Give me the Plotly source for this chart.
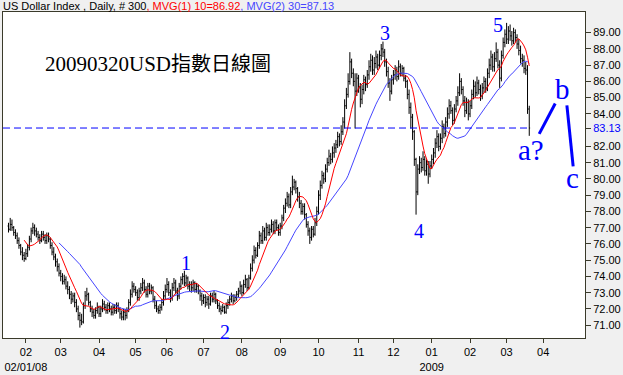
import plotly.graph_objects as go
import pandas as pd

# ---------------- data ----------------
closes = [
    76.9, 77.2, 77.0, 76.7, 76.5, 76.2, 75.9, 75.5, 75.3, 75.1, 75.4,
    75.8, 76.3, 76.8, 77.0, 76.8, 76.6,
    76.4, 76.2, 76.6, 76.4, 76.2, 76.5, 76.3,
    75.9, 75.5, 75.2, 74.9, 74.6,
    74.2, 74.0, 73.7, 73.8, 73.4,
    73.2, 72.9, 72.6, 72.8, 72.4,
    72.0, 71.6, 71.3, 71.2,
    72.2, 72.8, 72.9, 72.4,
    72.0, 71.8, 71.6, 71.9, 72.1, 71.7,
    72.0, 72.3, 72.1, 71.9, 72.2, 72.0, 71.8, 72.1, 71.9, 72.2, 72.0,
    71.7, 71.5, 71.8, 71.6, 71.9,
    72.4, 72.9, 73.4, 73.2, 73.0, 72.7, 73.1,
    73.3, 73.6, 73.2, 72.9, 73.4, 73.1, 73.3,
    72.6, 72.2, 72.0, 71.9, 72.1, 72.4,
    72.8, 73.2, 73.5, 73.0, 72.7, 73.3, 73.6, 73.1, 72.8, 73.4,
    73.8, 74.0, 73.6, 73.9, 73.4,
    73.5, 73.3, 73.6, 73.2, 73.4, 73.1,
    72.8, 72.5, 72.7, 72.4, 72.6, 72.3,
    72.8, 72.6, 72.9, 72.5,
    72.2, 72.0, 71.9, 72.1, 71.8, 72.2,
    72.4, 72.6, 72.8, 72.5, 72.7, 72.9, 73.1,
    73.4, 73.0, 73.5, 73.8, 73.3, 73.9,
    74.5, 75.0, 75.6, 75.3,
    75.9, 76.5, 76.2, 76.8, 76.4, 77.0, 76.7,
    76.9, 77.2, 76.8, 77.3, 77.0, 76.7, 77.1,
    77.6, 78.2, 78.5, 78.9, 78.4, 79.2, 79.5, 79.8, 79.4,
    78.9, 78.5, 78.0, 78.3, 77.8,
    77.2, 76.8, 76.4, 76.9, 76.6, 77.3,
    78.0, 79.0, 79.6, 80.2, 80.0, 80.6,
    81.0, 81.4, 81.2, 81.6, 81.9,
    82.1, 82.6, 82.3, 82.9,
    83.5, 84.5, 85.2, 86.0, 87.2, 86.5,
    86.0, 85.4, 86.2, 85.6, 84.9, 85.5, 86.1, 85.8,
    86.4, 86.9, 87.3, 86.7, 87.1, 87.5, 87.0,
    87.6, 88.0, 87.8, 87.2,
    86.6, 85.9, 85.4, 86.1,
    86.4, 86.7, 86.3, 86.9, 86.5, 86.8, 86.2, 86.0,
    85.2, 84.4, 83.8,
    82.9, 81.2, 79.2, 80.6,
    81.0, 80.7, 81.2, 80.5, 80.9, 80.3, 80.8,
    81.2, 81.6, 82.2, 82.6, 82.0, 82.5, 83.2, 82.8,
    83.5, 84.0, 84.5, 84.2, 83.6, 84.3,
    84.8, 85.3, 86.0, 85.5,
    84.8, 84.2, 84.7, 84.0,
    84.5, 85.2, 85.7, 85.3, 85.9, 85.5, 85.1, 85.6, 86.0,
    85.6, 86.5, 87.0, 87.5, 86.9, 87.4,
    87.8, 87.0, 86.2,
    87.6, 88.4, 88.9, 88.6, 89.1, 88.8, 88.5, 89.0,
    88.7, 88.3, 87.9, 87.4, 87.3, 86.8, 86.7,
    84.3, 83.13,
]

opens = [
    77.1, 76.9, 77.2, 77.0, 76.7, 76.5, 76.2, 75.9, 75.5, 75.3, 75.1,
    75.4, 75.8, 76.3, 76.8, 77.0, 76.8,
    76.6, 76.4, 76.2, 76.6, 76.4, 76.2, 76.5,
    76.3, 75.9, 75.5, 75.2, 74.9,
    74.6, 74.2, 74.0, 73.7, 73.8,
    73.4, 73.2, 72.9, 72.6, 72.8,
    72.4, 72.0, 71.6, 71.3,
    71.2, 72.2, 72.8, 72.9,
    72.4, 72.0, 71.8, 71.6, 71.9, 72.1,
    71.7, 72.0, 72.3, 72.1, 71.9, 72.2, 72.0, 71.8, 72.1, 71.9, 72.2,
    72.0, 71.7, 71.5, 71.8, 71.6,
    71.9, 72.4, 72.9, 73.4, 73.2, 73.0, 72.7,
    73.1, 73.3, 73.6, 73.2, 72.9, 73.4, 73.1,
    73.3, 72.6, 72.2, 72.0, 71.9, 72.1,
    72.4, 72.8, 73.2, 73.5, 73.0, 72.7, 73.3, 73.6, 73.1, 72.8,
    73.4, 73.8, 74.0, 73.6, 73.9,
    73.4, 73.5, 73.3, 73.6, 73.2, 73.4,
    73.1, 72.8, 72.5, 72.7, 72.4, 72.6,
    72.3, 72.8, 72.6, 72.9,
    72.5, 72.2, 72.0, 71.9, 72.1, 71.8,
    72.2, 72.4, 72.6, 72.8, 72.5, 72.7, 72.9,
    73.1, 73.4, 73.0, 73.5, 73.8, 73.3,
    73.9, 74.5, 75.0, 75.6,
    75.3, 75.9, 76.5, 76.2, 76.8, 76.4, 77.0,
    76.7, 76.9, 77.2, 76.8, 77.3, 77.0, 76.7,
    77.1, 77.6, 78.2, 78.5, 78.9, 78.4, 79.2, 79.5, 79.8,
    79.4, 78.9, 78.5, 78.0, 78.3,
    77.8, 77.2, 76.8, 76.4, 76.9, 76.6,
    77.3, 78.0, 79.0, 79.6, 80.2, 80.0,
    80.6, 81.0, 81.4, 81.2, 81.6,
    81.9, 82.1, 82.6, 82.3,
    82.9, 83.5, 84.5, 85.2, 86.0, 87.2,
    86.5, 86.0, 85.4, 86.2, 85.6, 84.9, 85.5, 86.1,
    85.8, 86.4, 86.9, 87.3, 86.7, 87.1, 87.5,
    87.0, 87.6, 88.0, 87.8,
    87.2, 86.6, 85.9, 85.4,
    86.1, 86.4, 86.7, 86.3, 86.9, 86.5, 86.8, 86.2,
    86.0, 85.2, 84.4,
    83.8, 82.9, 81.2, 79.2,
    80.6, 81.0, 80.7, 81.2, 80.5, 80.9, 80.3,
    80.8, 81.2, 81.6, 82.2, 82.6, 82.0, 82.5, 83.2,
    82.8, 83.5, 84.0, 84.5, 84.2, 83.6,
    84.3, 84.8, 85.3, 86.0,
    85.5, 84.8, 84.2, 84.7,
    84.0, 84.5, 85.2, 85.7, 85.3, 85.9, 85.5, 85.1, 85.6,
    86.0, 85.6, 86.5, 87.0, 87.5, 86.9,
    87.4, 87.8, 87.0,
    86.2, 87.6, 88.4, 88.9, 88.6, 89.1, 88.8, 88.5,
    89.0, 88.7, 88.3, 87.9, 87.4, 87.3, 86.8,
    86.7, 84.3,
]

highs = [
    77.3, 77.6, 77.5, 77.1, 76.9, 76.7, 76.4, 76.0, 75.8, 75.5, 75.7,
    76.0, 76.5, 77.0, 77.3, 77.2, 77.0,
    76.8, 76.6, 76.8, 76.8, 76.6, 76.7, 76.7,
    76.4, 76.1, 75.8, 75.4, 75.1,
    74.8, 74.4, 74.2, 74.1, 74.0,
    73.7, 73.4, 73.1, 73.0, 73.0,
    72.6, 72.2, 71.8, 71.7,
    72.4, 73.1, 73.3, 73.0,
    72.5, 72.2, 72.0, 72.1, 72.4, 72.2,
    72.2, 72.6, 72.5, 72.3, 72.4, 72.4, 72.2, 72.3, 72.3, 72.4, 72.4,
    72.1, 71.9, 72.0, 72.0, 72.1,
    72.6, 73.2, 73.7, 73.6, 73.4, 73.2, 73.3,
    73.6, 73.9, 73.8, 73.4, 73.6, 73.6, 73.5,
    73.4, 72.8, 72.5, 72.2, 72.3, 72.6,
    73.1, 73.5, 73.9, 73.7, 73.2, 73.6, 73.9, 73.8, 73.3, 73.6,
    74.0, 74.2, 74.35, 74.1, 74.0,
    73.7, 73.7, 73.8, 73.7, 73.6, 73.5,
    73.2, 73.0, 72.9, 72.9, 72.8, 72.8,
    73.0, 73.0, 73.1, 73.0,
    72.6, 72.4, 72.2, 72.3, 72.2, 72.4,
    72.6, 72.8, 73.0, 72.9, 72.9, 73.1, 73.3,
    73.7, 73.5, 73.8, 74.1, 73.9, 74.1,
    74.8, 75.3, 75.9, 75.8,
    76.1, 76.8, 76.7, 77.1, 77.0, 77.3, 77.2,
    77.2, 77.5, 77.4, 77.5, 77.5, 77.2, 77.3,
    77.8, 78.4, 78.8, 79.2, 79.1, 79.5, 80.2, 80.0, 79.9,
    79.5, 79.2, 78.7, 78.5, 78.5,
    77.9, 77.4, 77.0, 77.1, 77.1, 77.6,
    78.3, 79.3, 79.9, 80.5, 80.4, 80.9,
    81.3, 81.8, 81.6, 82.0, 82.2,
    82.4, 82.9, 82.8, 83.3,
    83.8, 84.9, 85.6, 86.5, 87.8, 87.4,
    86.8, 86.5, 86.5, 86.4, 85.9, 85.8, 86.4, 86.3,
    86.7, 87.3, 87.7, 87.6, 87.5, 87.9, 87.7,
    87.9, 88.3, 88.45, 88.0,
    87.4, 86.9, 86.2, 86.4,
    86.7, 87.0, 86.9, 87.3, 87.1, 87.0, 86.9, 86.4,
    86.1, 85.5, 84.7,
    84.0, 83.0, 81.3, 80.9,
    81.4, 81.3, 81.7, 81.4, 81.2, 81.1, 81.1,
    81.5, 81.9, 82.5, 83.0, 82.8, 82.8, 83.6, 83.4,
    83.8, 84.4, 84.9, 84.8, 84.4, 84.6,
    85.1, 85.7, 86.5, 86.2,
    85.7, 85.1, 85.0, 84.9,
    84.8, 85.5, 86.1, 86.0, 86.3, 86.1, 85.8, 85.9, 86.3,
    86.2, 86.8, 87.4, 87.9, 87.7, 87.8,
    88.4, 88.0, 87.3,
    87.9, 88.7, 89.2, 89.6, 89.4, 89.5, 89.1, 89.3,
    89.2, 88.9, 88.6, 88.2, 87.7, 87.6, 87.2,
    87.0, 84.5,
]

lows = [
    76.7, 76.8, 76.8, 76.5, 76.3, 76.0, 75.7, 75.3, 75.0, 74.9, 75.0,
    75.2, 75.6, 76.1, 76.6, 76.5, 76.4,
    76.2, 76.0, 76.1, 76.2, 76.0, 76.0, 76.1,
    75.7, 75.3, 75.0, 74.6, 74.3,
    74.0, 73.7, 73.5, 73.5, 73.2,
    72.9, 72.6, 72.3, 72.4, 72.1,
    71.8, 71.3, 70.85, 71.0,
    71.1, 72.0, 72.5, 72.2,
    71.8, 71.5, 71.4, 71.4, 71.7, 71.5,
    71.5, 71.8, 71.9, 71.7, 71.7, 71.8, 71.6, 71.6, 71.7, 71.7, 71.8,
    71.4, 71.3, 71.3, 71.3, 71.4,
    71.8, 72.2, 72.7, 73.0, 72.8, 72.5, 72.5,
    72.9, 73.1, 73.0, 72.7, 72.7, 72.9, 72.9,
    72.4, 72.0, 71.8, 71.7, 71.7, 71.9,
    72.2, 72.6, 73.0, 72.8, 72.4, 72.5, 73.1, 72.9, 72.5, 72.6,
    73.2, 73.5, 73.4, 73.4, 73.2,
    73.1, 73.0, 73.1, 73.0, 73.0, 72.9,
    72.5, 72.2, 72.3, 72.1, 72.2, 72.0,
    72.2, 72.4, 72.4, 72.3,
    72.0, 71.8, 71.65, 71.8, 71.7, 71.7,
    72.0, 72.2, 72.4, 72.3, 72.4, 72.5, 72.7,
    72.9, 72.8, 72.9, 73.3, 73.1, 73.2,
    73.8, 74.3, 74.8, 75.1,
    75.2, 75.7, 76.0, 76.0, 76.2, 76.2, 76.5,
    76.5, 76.7, 76.6, 76.6, 76.8, 76.5, 76.5,
    76.9, 77.4, 77.9, 78.3, 78.2, 78.2, 79.0, 79.3, 79.1,
    78.6, 78.2, 77.8, 77.8, 77.5,
    77.0, 76.5, 76.0, 76.2, 76.4, 76.5,
    77.1, 77.8, 78.7, 79.4, 79.7, 79.8,
    80.4, 80.8, 80.9, 81.0, 81.3,
    81.6, 81.9, 82.0, 82.1,
    82.7, 83.1, 84.3, 85.0, 85.8, 86.2,
    85.7, 83.1, 85.1, 85.3, 84.4, 84.6, 85.2, 85.4,
    85.6, 86.1, 86.6, 86.4, 86.4, 86.8, 86.7,
    86.8, 87.3, 87.5, 86.9,
    86.3, 85.6, 84.8, 85.2,
    85.8, 86.1, 86.0, 86.1, 86.3, 86.3, 86.0, 85.6,
    84.9, 84.0, 83.1,
    82.4, 80.8, 77.8, 79.0,
    80.3, 80.4, 80.5, 80.2, 80.2, 79.7, 80.1,
    80.6, 80.9, 81.3, 81.9, 81.7, 81.8, 82.2, 82.5,
    82.6, 83.2, 83.7, 84.0, 83.3, 83.4,
    84.1, 84.5, 85.1, 85.2,
    84.5, 83.8, 84.0, 83.6,
    83.8, 84.3, 84.9, 85.0, 85.1, 85.2, 84.8, 84.9, 85.3,
    85.3, 85.4, 86.2, 86.7, 86.6, 86.6,
    87.2, 86.8, 85.6,
    86.0, 87.4, 88.1, 88.3, 88.3, 88.5, 88.2, 88.3,
    88.4, 88.0, 87.6, 87.1, 86.9, 86.5, 86.4,
    84.0, 82.65,
]

month_ticks = [10, 30, 52, 73, 91, 112, 134, 156, 178, 201, 221, 243, 265, 286, 307]
month_labels = ["02<br>02/01/08", "03", "04", "05", "06", "07", "08", "09", "10",
                "11", "12", "01<br>2009", "02", "03", "04"]

price_ticks = [71, 72, 73, 74, 75, 76, 77, 78, 79, 80, 81, 82, 83.13, 84, 85, 86, 87, 88, 89]
last_close = 83.13
ma_short_n = 10
ma_long_n = 30

header_main = "US Dollar Index , Daily, # 300"
header_ma1 = ", MVG(1) 10=86.92"
header_ma2 = ", MVG(2) 30=87.13"
chart_title_latin = "20090320USD"
chart_title_cjk = "指數日線圖"

wave_labels = ["1", "2", "3", "4", "5"]
wave_x = [102, 124.5, 216.4, 235.5, 281.3]
wave_y = [74.8, 70.6, 89.0, 76.8, 89.45]

# ---------------- figure ----------------
idx = list(range(len(closes)))
s = pd.Series(closes)
ma10 = s.rolling(ma_short_n).mean()
ma30 = s.rolling(ma_long_n).mean()

BLUE = "#0000ff"
MA_BLUE = "#4646ff"
BORDER = "#3a3a2a"
FONT = "Liberation Sans, Arial, sans-serif"
SERIF = "Liberation Serif, Times New Roman, serif"

fig = go.Figure()

fig.add_trace(go.Ohlc(
    x=idx, open=opens, high=highs, low=lows, close=closes,
    increasing=dict(line=dict(color="black", width=1)),
    decreasing=dict(line=dict(color="black", width=1)),
    tickwidth=0.5, showlegend=False, hoverinfo="skip",
))
fig.add_trace(go.Scatter(x=idx, y=ma30, mode="lines",
                         line=dict(color=MA_BLUE, width=1), showlegend=False, hoverinfo="skip"))
fig.add_trace(go.Scatter(x=idx, y=ma10, mode="lines",
                         line=dict(color="#ff0000", width=1), showlegend=False, hoverinfo="skip"))

# last-close dashed line
fig.add_shape(type="line", xref="x", yref="y", x0=-3.15, x1=len(closes) - 1,
              y0=last_close, y1=last_close, line=dict(color=BLUE, width=1, dash="7px,4px"))

# hand-drawn b / c projection strokes
fig.add_shape(type="line", xref="x", yref="y", x0=304.7, y0=82.77, x1=313.9, y1=84.64,
              line=dict(color=BLUE, width=3))
fig.add_shape(type="line", xref="x", yref="y", x0=320.6, y0=84.52, x1=324.2, y1=80.77,
              line=dict(color=BLUE, width=3))

ann = []
for t, xv, yv in zip(wave_labels, wave_x, wave_y):
    ann.append(dict(x=xv, y=yv, xref="x", yref="y", text=t, showarrow=False,
                    font=dict(family=SERIF, size=20, color=BLUE)))
ann.append(dict(x=300.2, y=81.75, xref="x", yref="y", text="a?", showarrow=False,
                font=dict(family=SERIF, size=29, color=BLUE)))
ann.append(dict(x=317.9, y=85.55, xref="x", yref="y", text="b", showarrow=False,
                font=dict(family=SERIF, size=29, color=BLUE)))
ann.append(dict(x=323.6, y=80.05, xref="x", yref="y", text="c", showarrow=False,
                font=dict(family=SERIF, size=29, color=BLUE)))

ann.append(dict(
    x=-2 / 584, y=1 + 6 / 332, xref="paper", yref="paper", xanchor="left", yanchor="middle",
    showarrow=False,
    text=(header_main + "<span style='color:#ff0000'>" + header_ma1 + "</span>"
          + "<span style='color:#4646ff'>" + header_ma2 + "</span>"),
    font=dict(family=FONT, size=11, color="black"),
))
ann.append(dict(
    x=(157.5 - 2) / 584, y=1 - (63 - 12) / 332, xref="paper", yref="paper",
    xanchor="center", yanchor="middle", showarrow=False,
    text=(chart_title_latin
          + "<span style='font-family:Noto Sans CJK TC;font-size:20px'>" + chart_title_cjk + "</span>"),
    font=dict(family=SERIF, size=21, color="black"),
))

ytext = []
for v in price_ticks:
    if v == last_close:
        ytext.append("<span style='color:#0000ff'>%.2f</span>" % v)
    else:
        ytext.append("%.2f" % v)

fig.update_layout(
    width=623, height=375,
    margin=dict(l=2, r=37, t=12, b=31),
    paper_bgcolor="#f0f0f0", plot_bgcolor="white",
    annotations=ann,
    xaxis=dict(
        range=[-3.15, 331.0], tickmode="array", tickvals=month_ticks, ticktext=month_labels,
        ticks="outside", ticklen=4, tickcolor=BORDER, showgrid=False, zeroline=False,
        showline=True, linecolor=BORDER, linewidth=1, mirror=True,
        tickfont=dict(family=FONT, size=11, color="black"), rangeslider=dict(visible=False),
        fixedrange=True,
    ),
    yaxis=dict(
        range=[70.21, 90.27], side="right", tickmode="array", tickvals=price_ticks, ticktext=ytext,
        ticks="outside", ticklen=5, tickcolor=BORDER, showgrid=False, zeroline=False,
        showline=True, linecolor=BORDER, linewidth=1, mirror=True,
        tickfont=dict(family=FONT, size=11, color="black"), fixedrange=True,
    ),
)

fig.write_html(
    "out.html",
    config={"displayModeBar": False},
    post_script="document.body.style.margin='0px';document.body.style.background='#f0f0f0';",
)
